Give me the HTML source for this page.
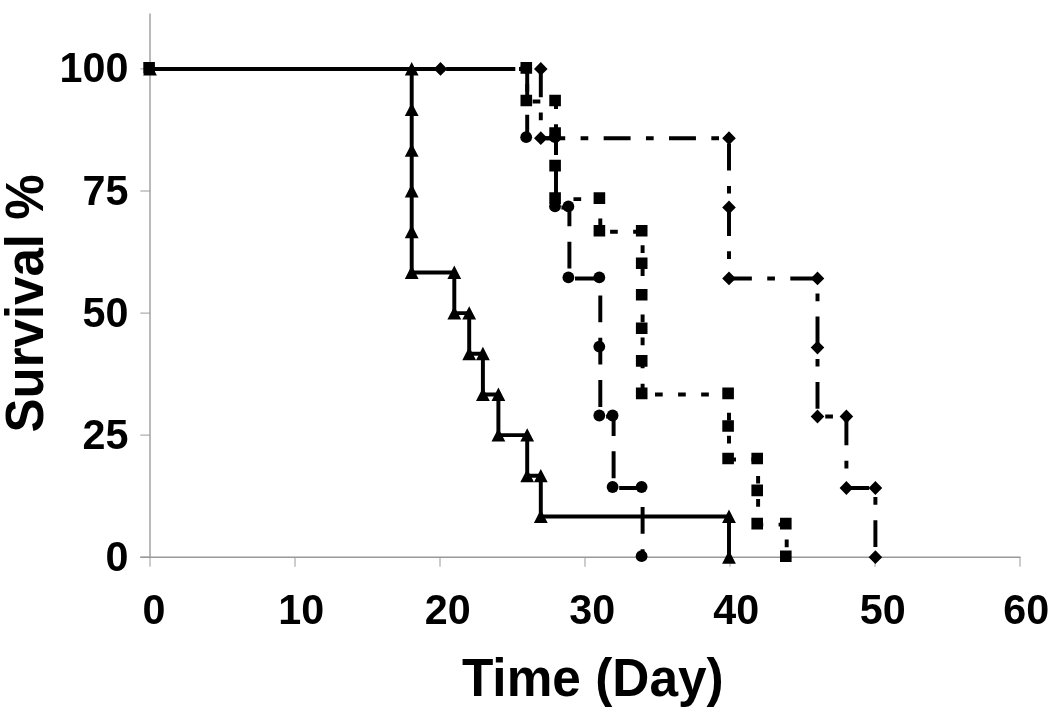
<!DOCTYPE html>
<html><head><meta charset="utf-8"><title>Survival</title>
<style>
html,body{margin:0;padding:0;background:#fff;}
body{width:1050px;height:710px;overflow:hidden;}
svg{display:block;will-change:transform;}
text{font-family:"Liberation Sans",Arial,Helvetica,sans-serif;font-weight:700;fill:#000;}
</style></head><body>
<svg width="1050" height="710" viewBox="0 0 1050 710">
<rect width="1050" height="710" fill="#fff"/>
<path d="M150 13.5V557.2M140.3 557.2H1020.5" stroke="#999" stroke-width="1.35" fill="none"/>
<path d="M140.3 557.2H150M140.3 435.1H150M140.3 313.1H150M140.3 191.0H150M140.3 68.9H150M150.0 557.2V566.7M295.0 557.2V566.7M440.0 557.2V566.7M585.0 557.2V566.7M730.0 557.2V566.7M875.0 557.2V566.7M1020.0 557.2V566.7" stroke="#9a9a9a" stroke-width="1.0" fill="none"/>
<path d="M150.0 68.9 L440.5 68.9 L540.8 68.9 L540.8 138.2 L729.0 138.2 L729.0 207.4 L729.0 278.4 L817.5 278.4 L817.5 347.6 L817.5 416.5 L846.4 416.5 L846.4 488.0 L875.4 488.0 L875.4 557.2" fill="none" stroke="#000" stroke-width="3.95" stroke-dasharray="26.92 15.38 7.69 15.38" stroke-dashoffset="0"/>
<path d="M150.0 68.9 L527.2 68.9 L527.2 138.2 L556.0 138.2 L556.0 207.4 L569.4 207.4 L569.4 278.4 L600.3 278.4 L600.3 347.6 L600.3 416.5 L613.6 416.5 L613.6 488.0 L642.6 488.0 L642.6 557.2" fill="none" stroke="#000" stroke-width="3.95" stroke-dasharray="26.92 15.38" stroke-dashoffset="0"/>
<path d="M150.0 68.9 L527.2 68.9 L527.2 101.5 L556.0 101.5 L556.0 134.0 L556.0 166.6 L556.0 199.1 L600.3 199.1 L600.3 231.7 L642.6 231.7 L642.6 264.2 L642.6 295.8 L642.6 329.3 L642.6 361.9 L642.6 394.4 L729.0 394.4 L729.0 427.0 L729.0 459.5 L758.1 459.5 L758.1 491.4 L758.1 524.6 L786.7 524.6 L786.7 557.2" fill="none" stroke="#000" stroke-width="3.95" stroke-dasharray="7.69 15.38" stroke-dashoffset="0"/>
<path d="M150.0 68.9 L411.7 68.9 L411.7 109.6 L411.7 150.3 L411.7 191.0 L411.7 231.7 L411.7 272.4 L454.3 272.4 L454.3 313.1 L469.2 313.1 L469.2 353.7 L482.9 353.7 L482.9 394.4 L498.4 394.4 L498.4 435.1 L527.2 435.1 L527.2 475.8 L540.8 475.8 L540.8 516.5 L729.0 516.5 L729.0 557.2" fill="none" stroke="#000" stroke-width="3.95"/>
<path d="M143.3 62.1h11.6v11.6h-11.6zM520.5 62.1h11.6v11.6h-11.6zM520.5 94.7h11.6v11.6h-11.6zM549.3 94.7h11.6v11.6h-11.6zM549.3 127.2h11.6v11.6h-11.6zM549.3 159.8h11.6v11.6h-11.6zM549.3 192.3h11.6v11.6h-11.6zM593.6 192.3h11.6v11.6h-11.6zM593.6 224.9h11.6v11.6h-11.6zM635.9 224.9h11.6v11.6h-11.6zM635.9 257.4h11.6v11.6h-11.6zM635.9 289.0h11.6v11.6h-11.6zM635.9 322.5h11.6v11.6h-11.6zM635.9 355.1h11.6v11.6h-11.6zM635.9 387.6h11.6v11.6h-11.6zM722.3 387.6h11.6v11.6h-11.6zM722.3 420.2h11.6v11.6h-11.6zM722.3 452.7h11.6v11.6h-11.6zM751.4 452.7h11.6v11.6h-11.6zM751.4 484.6h11.6v11.6h-11.6zM751.4 517.8h11.6v11.6h-11.6zM780.0 517.8h11.6v11.6h-11.6zM780.0 550.4h11.6v11.6h-11.6z"/>
<circle cx="526.2" cy="67.9" r="5.9"/>
<circle cx="526.2" cy="137.2" r="5.9"/>
<circle cx="555.0" cy="137.2" r="5.9"/>
<circle cx="555.0" cy="206.4" r="5.9"/>
<circle cx="568.4" cy="206.4" r="5.9"/>
<circle cx="568.4" cy="277.4" r="5.9"/>
<circle cx="599.3" cy="277.4" r="5.9"/>
<circle cx="599.3" cy="346.6" r="5.9"/>
<circle cx="599.3" cy="415.5" r="5.9"/>
<circle cx="612.6" cy="415.5" r="5.9"/>
<circle cx="612.6" cy="487.0" r="5.9"/>
<circle cx="641.6" cy="487.0" r="5.9"/>
<circle cx="641.6" cy="556.2" r="5.9"/>
<path d="M433.7 68.9l6.8 -6.9l6.8 6.9l-6.8 6.9zM534.0 68.9l6.8 -6.9l6.8 6.9l-6.8 6.9zM534.0 138.2l6.8 -6.9l6.8 6.9l-6.8 6.9zM722.2 138.2l6.8 -6.9l6.8 6.9l-6.8 6.9zM722.2 207.4l6.8 -6.9l6.8 6.9l-6.8 6.9zM722.2 278.4l6.8 -6.9l6.8 6.9l-6.8 6.9zM810.7 278.4l6.8 -6.9l6.8 6.9l-6.8 6.9zM810.7 347.6l6.8 -6.9l6.8 6.9l-6.8 6.9zM810.7 416.5l6.8 -6.9l6.8 6.9l-6.8 6.9zM839.6 416.5l6.8 -6.9l6.8 6.9l-6.8 6.9zM839.6 488.0l6.8 -6.9l6.8 6.9l-6.8 6.9zM868.6 488.0l6.8 -6.9l6.8 6.9l-6.8 6.9zM868.6 557.2l6.8 -6.9l6.8 6.9l-6.8 6.9z"/>
<path d="M143.1 75.4l6.9 -13.4l6.9 13.4zM404.8 75.4l6.9 -13.4l6.9 13.4zM404.8 116.1l6.9 -13.4l6.9 13.4zM404.8 156.8l6.9 -13.4l6.9 13.4zM404.8 197.5l6.9 -13.4l6.9 13.4zM404.8 238.2l6.9 -13.4l6.9 13.4zM404.8 278.9l6.9 -13.4l6.9 13.4zM447.4 278.9l6.9 -13.4l6.9 13.4zM447.4 319.6l6.9 -13.4l6.9 13.4zM462.3 319.6l6.9 -13.4l6.9 13.4zM462.3 360.2l6.9 -13.4l6.9 13.4zM476.0 360.2l6.9 -13.4l6.9 13.4zM476.0 400.9l6.9 -13.4l6.9 13.4zM491.5 400.9l6.9 -13.4l6.9 13.4zM491.5 441.6l6.9 -13.4l6.9 13.4zM520.3 441.6l6.9 -13.4l6.9 13.4zM520.3 482.3l6.9 -13.4l6.9 13.4zM533.9 482.3l6.9 -13.4l6.9 13.4zM533.9 523.0l6.9 -13.4l6.9 13.4zM722.1 523.0l6.9 -13.4l6.9 13.4zM722.1 563.7l6.9 -13.4l6.9 13.4z"/>
<text transform="translate(128.5,570.7) scale(1,1.045)" text-anchor="end" font-size="41.3">0</text>
<text transform="translate(128.5,448.6) scale(1,1.045)" text-anchor="end" font-size="41.3">25</text>
<text transform="translate(128.5,326.6) scale(1,1.045)" text-anchor="end" font-size="41.3">50</text>
<text transform="translate(128.5,204.5) scale(1,1.045)" text-anchor="end" font-size="41.3">75</text>
<text transform="translate(128.5,82.4) scale(1,1.045)" text-anchor="end" font-size="41.3">100</text>
<text transform="translate(153.9,624.3) scale(1,1.045)" text-anchor="middle" font-size="41.3">0</text>
<text transform="translate(301.3,624.3) scale(1,1.045)" text-anchor="middle" font-size="41.3">10</text>
<text transform="translate(447.7,624.3) scale(1,1.045)" text-anchor="middle" font-size="41.3">20</text>
<text transform="translate(592.3,624.3) scale(1,1.045)" text-anchor="middle" font-size="41.3">30</text>
<text transform="translate(736.3,624.3) scale(1,1.045)" text-anchor="middle" font-size="41.3">40</text>
<text transform="translate(882.8,624.3) scale(1,1.045)" text-anchor="middle" font-size="41.3">50</text>
<text transform="translate(1026.3,624.3) scale(1,1.045)" text-anchor="middle" font-size="41.3">60</text>
<text transform="translate(592.8,696.3) scale(1,1.035)" text-anchor="middle" font-size="51.4">Time (Day)</text>
<text transform="translate(42.8,303.5) rotate(-90) scale(1,1.06)" text-anchor="middle" font-size="51">Survival %</text>
</svg>
</body></html>
